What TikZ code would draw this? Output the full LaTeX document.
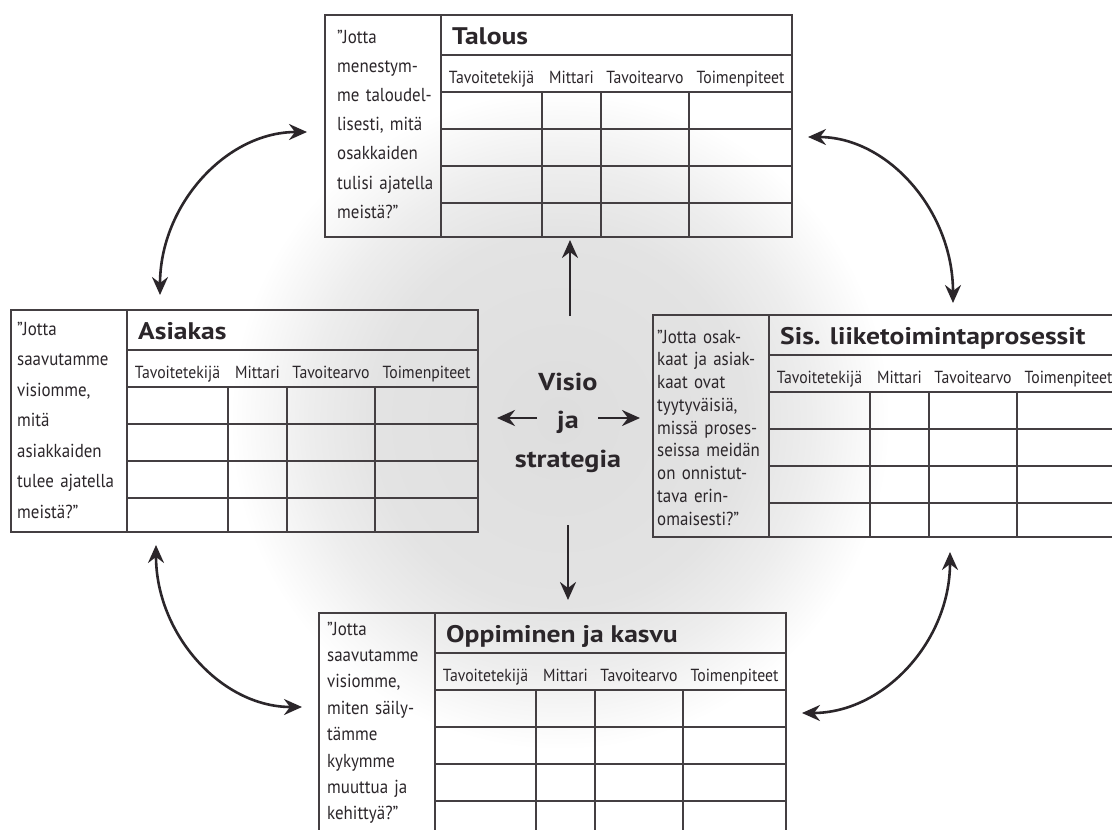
\documentclass[tikz,border=0pt]{standalone}
\usepackage{fontspec}
\setmainfont{PT Sans}
\newfontfamily\titlefamily[FakeStretch=1.15]{PT Sans}
\newfontfamily\labelfamily[FakeStretch=0.9]{PT Sans}
\newfontfamily\questionfamily[FakeStretch=0.9]{PT Sans}
\usetikzlibrary{arrows.meta,calc}

\definecolor{ink}{HTML}{2B262A}
\definecolor{rulecol}{HTML}{443F42}

% soft grey cloud behind the centre
\pgfdeclareradialshading{haze}{\pgfpoint{0bp}{0bp}}{%
  color(0bp)=(black!13); color(14bp)=(black!11); color(19bp)=(black!7); color(25bp)=(white); color(50bp)=(white)}

\tikzset{
  cardframe/.style={draw=rulecol, line width=1.4pt, minimum width=467pt, minimum height=222pt,
    anchor=north west, inner sep=0pt, outer sep=0pt},
  gridline/.style={draw=rulecol, line width=1.1pt},
  cardtitle/.style={anchor=base west, inner sep=0pt, text=ink,
    font=\titlefamily\bfseries\fontsize{24}{28}\selectfont},
  colhead/.style={anchor=base, inner sep=0pt, text=ink,
    font=\labelfamily\fontsize{17.5}{20}\selectfont},
  question/.style={anchor=base west, inner sep=0pt, text=ink, text width=160pt, align=left},
  centretext/.style={anchor=base, inner sep=0pt, text=ink, text width=160pt, align=center,
    font=\titlefamily\bfseries\fontsize{24.5}{38.5}\selectfont},
  >={Stealth[length=18pt,width=16pt,inset=6pt]},
  arr/.style={draw=ink, line width=2.8pt, ->},
  biarr/.style={draw=ink, line width=2.6pt, <->},
}

% #1 name, #2 top-left corner, #3 title, #4/#5 question offset, #6 line pitch, #7 question
\newcommand\perspectivecard[7]{%
  \node[cardframe] (#1) at (#2) {};
  \draw[gridline] ($(#1.north west)+(116,0)$) -- ($(#1.south west)+(116,0)$);
  \foreach \rowy in {40,77,114,151,188}
    \draw[gridline] ($(#1.north west)+(116,\rowy)$) -- ($(#1.north east)+(0,\rowy)$);
  \foreach \colx in {217,276,364}
    \draw[gridline] ($(#1.north west)+(\colx,77)$) -- ($(#1.south west)+(\colx,0)$);
  \foreach \lab/\cx [count=\i] in {Tavoitetekijä/166.5,Mittari/246.5,Tavoitearvo/320,Toimenpiteet/415.5}
    \node[colhead] (#1-h\i) at ($(#1.north west)+(\cx,68.5)$) {\lab};
  \node[cardtitle] (#1-t) at ($(#1.north west)+(127,29)$) {#3};
  \node[question, font=\questionfamily\fontsize{18.8}{#6}\selectfont] (#1-q)
    at ($(#1.north west)+(#4,#5)$) {#7};
}

\begin{document}
\begin{tikzpicture}[x=1pt, y=-1pt]
  \useasboundingbox (0,0) rectangle (1112,830);
  \clip (0,0) rectangle (1112,830);
  \fill[white] (0,0) rectangle (1112,830);
  \shade[shading=haze] (560,420) circle[radius=330];

  \perspectivecard{talous}{325,15}{Talous}{12}{28}{29.2}%
    {”Jotta\\menestym-\\me taloudel-\\lisesti, mitä\\osakkaiden\\tulisi ajatella\\meistä?”}
  \perspectivecard{asiakas}{11,310}{Asiakas}{6}{25}{30.5}%
    {”Jotta\\saavutamme\\visiomme,\\mitä\\asiakkaiden\\tulee ajatella\\meistä?”}
  \perspectivecard{prosessit}{653,315}{Sis. liiketoimintaprosessit}{4}{28}{22.75}%
    {”Jotta osak-\\kaat ja asiak-\\kaat ovat\\tyytyväisiä,\\missä proses-\\seissa meidän\\on onnistut-\\tava erin-\\omaisesti?”}
  \perspectivecard{oppiminen}{319,613}{Oppiminen ja kasvu}{8}{22}{26.4}%
    {”Jotta\\saavutamme\\visiomme,\\miten säily-\\tämme\\kykymme\\muuttua ja\\kehittyä?”}

  % vision and strategy in the middle
  \node[centretext] (vis) at (568,390) {Visio\\ja\\strategia};

  \coordinate (upTail) at (570,316);
  \coordinate (downTail) at (568,525);
  \coordinate (leftTail) at (537,418);
  \coordinate (rightTail) at (598,418);
  \draw[arr, shorten >=3pt] (upTail) -- (upTail |- talous.south);
  \draw[arr, shorten >=13pt] (downTail) -- (downTail |- oppiminen.north);
  \draw[arr, shorten >=19pt] (leftTail) -- (leftTail -| asiakas.east);
  \draw[arr, shorten >=13pt] (rightTail) -- (rightTail -| prosessit.west);

  % two-way links between neighbouring perspectives
  \coordinate (tlA) at (160,295);  \coordinate (tlB) at (307,132);
  \coordinate (trA) at (808,137);  \coordinate (trB) at (953,303);
  \coordinate (blA) at (156,545);  \coordinate (blB) at (302,707);
  \coordinate (brA) at (950,552);  \coordinate (brB) at (802,713);
  \draw[biarr] (tlA) .. controls (160,205) and (226,132) .. (tlB);
  \draw[biarr] (trA) .. controls (888,137) and (953,211) .. (trB);
  \draw[biarr] (blA) .. controls (156,634) and (221,707) .. (blB);
  \draw[biarr] (brA) .. controls (950,641) and (884,713) .. (brB);
\end{tikzpicture}
\end{document}
